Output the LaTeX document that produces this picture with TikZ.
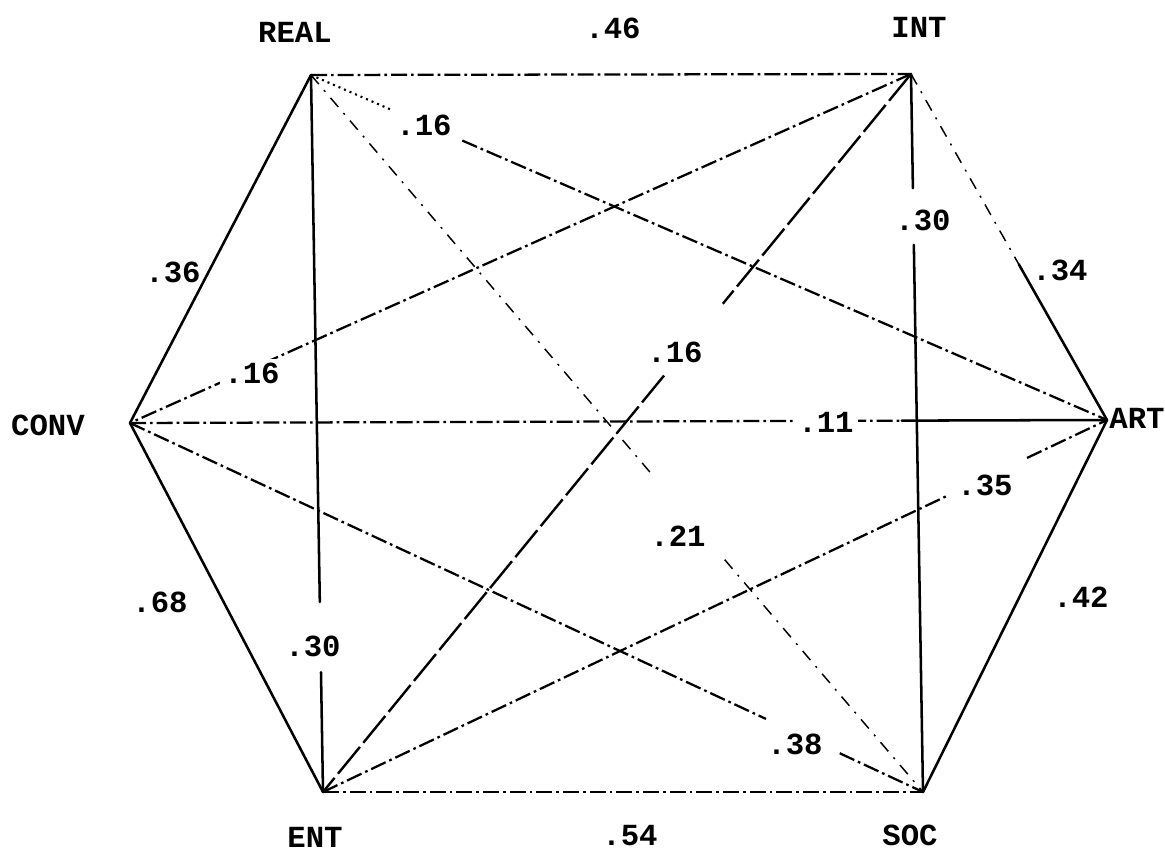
\documentclass[tikz,border=0pt]{standalone}
\usepackage{fontspec}
\setmonofont{Liberation Mono}
\usetikzlibrary{calc}
\newcommand\mytw{\ttfamily\bfseries\fontsize{23}{26}\selectfont}
\begin{document}
\begin{tikzpicture}[x=0.75pt,y=-0.75pt,
  solidln/.style={line width=1.9pt, line cap=round},
  dashdot/.style={line width=1.7pt, dash pattern=on 12pt off 3pt on 2pt off 3pt},
  thindd/.style={line width=1.1pt, dash pattern=on 9pt off 6pt on 1.5pt off 6pt},
  longdash/.style={line width=1.8pt, dash pattern=on 26pt off 4pt},
  dotln/.style={line width=1.6pt, dash pattern=on 1.5pt off 3pt},
  vname/.style={font=\mytw, inner sep=0pt},
  wt/.style={font=\mytw, fill=white, inner sep=3pt}
]
\useasboundingbox[fill=white] (0,0) rectangle (1165,855);

% vertices
\coordinate (REAL) at (311,75);
\coordinate (INT)  at (911,74);
\coordinate (CONV) at (130,423);
\coordinate (ART)  at (1107,420);
\coordinate (ENT)  at (323,792);
\coordinate (SOC)  at (923,792);

% vertex names
\node[vname] (nREAL) at (295,32) {REAL};
\node[vname] (nINT)  at (919,27) {INT};
\node[vname] (nCONV) at (48,425) {CONV};
\node[vname] (nART)  at (1137,418) {ART};
\node[vname] (nENT)  at (315,837) {ENT};
\node[vname] (nSOC)  at (910,835) {SOC};

% connectors
\draw[dashdot] (REAL) -- (INT);
\draw[solidln] (REAL) -- (CONV);
\draw[solidln] (REAL) -- ($(REAL)!0.735!(ENT)$);
\draw[solidln] ($(REAL)!0.833!(ENT)$) -- (ENT);
\draw[dotln] (REAL) -- ($(REAL)!0.1!(ART)$);
\draw[dashdot] ($(REAL)!0.19!(ART)$) -- (ART);
\draw[thindd] (REAL) -- ($(REAL)!0.558!(SOC)$);
\draw[thindd] ($(REAL)!0.676!(SOC)$) -- (SOC);
\draw[dashdot] (INT) -- (CONV);
\draw[longdash] (INT) -- ($(INT)!0.32!(ENT)$);
\draw[longdash] ($(INT)!0.42!(ENT)$) -- (ENT);
\draw[solidln] (INT) -- ($(INT)!0.159!(SOC)$);
\draw[solidln] ($(INT)!0.238!(SOC)$) -- (SOC);
\draw[thindd] (INT) -- ($(INT)!0.55!(ART)$);
\draw[solidln] ($(INT)!0.55!(ART)$) -- (ART);
\draw[dashdot] (CONV) -- ($(CONV)!0.79!(ART)$);
\draw[solidln] ($(CONV)!0.79!(ART)$) -- (ART);
\draw[solidln] (CONV) -- (ENT);
\draw[dashdot] (CONV) -- ($(CONV)!0.802!(SOC)$);
\draw[dashdot] ($(CONV)!0.895!(SOC)$) -- (SOC);
\draw[dashdot] (ENT) -- ($(ENT)!0.796!(ART)$);
\draw[dashdot] ($(ENT)!0.898!(ART)$) -- (ART);
\draw[solidln] (ART) -- (SOC);
\draw[dashdot] (ENT) -- (SOC);

% correlation labels
\node[vname] (l46) at (613,28) {.46};
\node[wt] (l16a) at (424,125) {.16};
\node[vname] (l36) at (173,272) {.36};
\node[wt] (l16b) at (252,373) {.16};
\node[wt] (l30a) at (923,220) {.30};
\node[vname] (l34) at (1060,270) {.34};
\node[wt] (l16c) at (675,352) {.16};
\node[wt] (l11) at (826,422) {.11};
\node[wt] (l35) at (985,485) {.35};
\node[wt] (l21) at (678,536) {.21};
\node[vname] (l68) at (160,602) {.68};
\node[wt] (l30b) at (313,646) {.30};
\node[vname] (l42) at (1081,597) {.42};
\node[wt] (l38) at (795,744) {.38};
\node[vname] (l54) at (630,836) {.54};
\end{tikzpicture}
\end{document}
